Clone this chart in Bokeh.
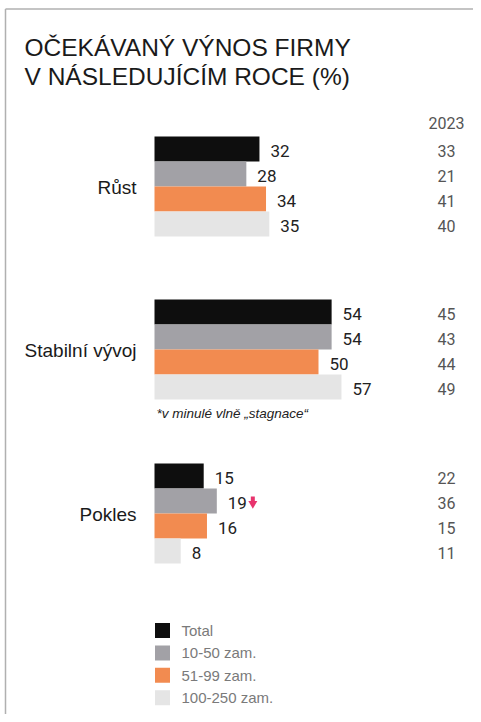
from bokeh.plotting import figure
from bokeh.models import Range1d
from bokeh.core.properties import value
from bokeh.embed import file_html
from bokeh.resources import INLINE

# ---- data ----
categories = ["Růst", "Stabilní vývoj", "Pokles"]
series = ["Total", "10-50 zam.", "51-99 zam.", "100-250 zam."]
colors = ["#0e0e0e", "#a2a1a6", "#f28b50", "#e5e5e5"]
values_2024 = [
    [32, 28, 34, 35],
    [54, 54, 50, 57],
    [15, 19, 16, 8],
]
values_2023 = [
    [33, 21, 41, 40],
    [45, 43, 44, 49],
    [22, 36, 15, 11],
]
prev_label = "2023"
title_lines = ["OČEKÁVANÝ VÝNOS FIRMY", "V NÁSLEDUJÍCÍM ROCE (%)"]
footnote = "*v minulé vlně „stagnace“"
drop_flags = [(2, 1)]  # (category, series) marked with a pink arrow

# ---- layout (pixel positions measured from the top-left of the figure) ----
W, H = 473, 714
OX, OY = 7, 7        # calibration offset
PPU = 3.28           # pixels per percentage point
BAR_X0 = 147 + OX    # pixel x of bar origin
X0 = -BAR_X0 / PPU


def px2x(px):
    return X0 + (px + OX) / PPU


def py(y):
    return y + OY


GROUP_TOP = [129, 292, 456]
BAR_H = 25

p = figure(width=W, height=H, output_backend="svg", toolbar_location=None,
           x_range=Range1d(X0, X0 + W / PPU), y_range=Range1d(H, 0),
           x_axis_type=None, y_axis_type=None, min_border=0,
           tools="")
p.min_border_left = p.min_border_right = p.min_border_top = p.min_border_bottom = 0
p.outline_line_color = None
p.xgrid.visible = False
p.ygrid.visible = False
p.background_fill_color = "white"
p.border_fill_color = "white"

# frame lines (top and left)
fx = px2x(-2)
fy = py(1.5)
p.segment(x0=[fx, fx], y0=[fy, fy], x1=[fx, X0 + W / PPU + 5], y1=[H + 5, fy],
          line_color="#b0b0b0", line_width=1.5)

SANS = value("Liberation Sans")
NUM = value("Roboto")

# title
p.text(x=[px2x(17)] * 2, y=[py(40), py(69)], text=title_lines, text_font=SANS,
       text_font_size="24.5px", text_color="#1a1a1a", text_baseline="alphabetic")

# header of previous wave
p.text(x=[px2x(439)], y=[py(115)], text=[prev_label], text_font=NUM, text_font_size="16px",
       text_color="#555555", text_align="center", text_baseline="middle")

for gi, cat in enumerate(categories):
    top = py(GROUP_TOP[gi])
    ys = [top + BAR_H * (si + 0.5) for si in range(len(series))]
    vals = values_2024[gi]
    p.hbar(y=ys, left=0, right=vals, height=BAR_H, fill_color=colors, line_color=None)
    p.text(x=[v + 11 / PPU for v in vals], y=[y + 2 for y in ys], text=[str(v) for v in vals],
           text_font=NUM, text_font_size="17px", text_color="#222222",
           text_baseline="middle", text_align="left")
    p.text(x=[px2x(439)] * len(series), y=[y + 2 for y in ys],
           text=[str(v) for v in values_2023[gi]], text_font=NUM, text_font_size="16px",
           text_color="#555555", text_baseline="middle", text_align="center")
    p.text(x=[px2x(129)], y=[top + BAR_H * 2 + 1], text=[cat], text_font=SANS,
           text_font_size="19px", text_color="#1a1a1a", text_baseline="middle",
           text_align="right")

# pink arrow
for gi, si in drop_flags:
    v = values_2024[gi][si]
    yc = py(GROUP_TOP[gi]) + BAR_H * (si + 0.5) + 1
    xa = v + 36 / PPU
    p.rect(x=[xa], y=[yc - 3], width=4 / PPU, height=5, fill_color="#e8336d", line_color=None)
    p.scatter(x=[xa], y=[yc + 1.5], marker="inverted_triangle", size=9,
              fill_color="#e8336d", line_color=None)

# footnote
p.text(x=[px2x(149)], y=[py(406)], text=[footnote], text_font=SANS, text_font_size="13.5px",
       text_font_style="italic", text_color="#222222", text_baseline="middle")

# legend
leg_y = [py(623 + 22.4 * i) for i in range(len(series))]
p.scatter(x=[px2x(155)] * len(series), y=leg_y, marker="square", size=15,
          fill_color=colors, line_color=None)
p.text(x=[px2x(174)] * len(series), y=leg_y, text=series, text_font=SANS,
       text_font_size="15px", text_color="#7a7a7a", text_baseline="middle")

open("out.html", "w").write(file_html(p, INLINE))
